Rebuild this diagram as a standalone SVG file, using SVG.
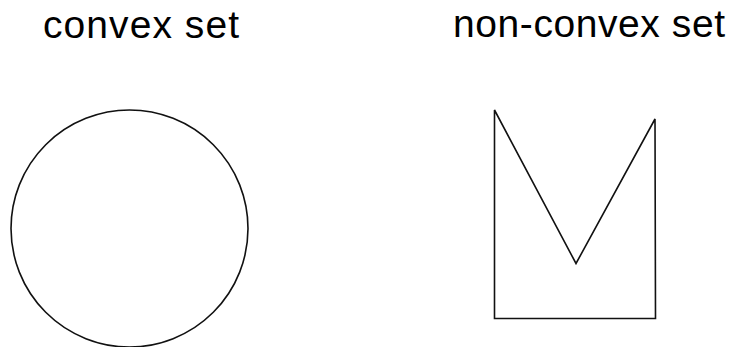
<svg xmlns="http://www.w3.org/2000/svg" width="733" height="347" viewBox="0 0 733 347">
<style>
.lbl{font-family:"Liberation Sans",Arial,sans-serif;font-size:39px;fill:#000}
.shape{fill:none;stroke:#111;stroke-width:1.6}
</style>
<rect width="733" height="347" fill="#fff"/>
<g id="convex">
<text class="lbl" x="43" y="38" textLength="196">convex set</text>
<circle class="shape" stroke-width="2" cx="129.5" cy="228.5" r="118.5"/>
</g>
<g id="nonconvex">
<text class="lbl" x="453" y="37" textLength="272">non-convex set</text>
<polygon class="shape" stroke-width="1.3" stroke="#222" points="494.5,110 576,263.5 655,119 655.5,318.5 494.5,318.5"/>
</g>
</svg>
